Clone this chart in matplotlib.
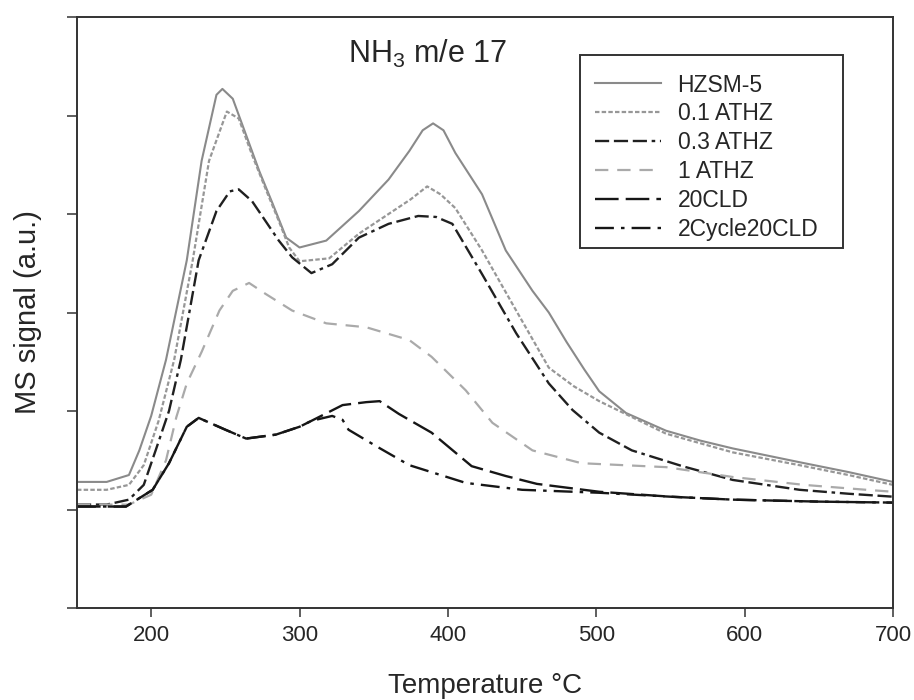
import matplotlib
matplotlib.use("Agg")
import matplotlib.pyplot as plt
from matplotlib.patches import Rectangle

# ---- data ----
T_hzsm5 = [150,170,185,192,200,210,224,234,244,248,255,264,273,282,291,300,318,340,360,374,383,390,397,405,423,439,457,468,480,492,502,520,547,570,592,637,670,700]
v_hzsm5 = [0.28,0.28,0.35,0.6,0.95,1.52,2.53,3.54,4.21,4.27,4.17,3.8,3.43,3.1,2.76,2.66,2.73,3.03,3.35,3.64,3.85,3.92,3.85,3.62,3.2,2.63,2.22,2.0,1.7,1.42,1.2,0.98,0.8,0.7,0.62,0.48,0.38,0.28]

T_01 = [150,170,185,195,205,215.5,228,239,251,259,268,277,286,293,300,320,340,360,375,386,395,405,423,446,468,485,502,547,592,637,670,700]
v_01 = [0.2,0.2,0.25,0.45,0.9,1.52,2.53,3.54,4.04,3.97,3.6,3.26,2.93,2.66,2.52,2.55,2.8,3.0,3.15,3.28,3.2,3.06,2.63,2.02,1.44,1.25,1.1,0.77,0.58,0.45,0.35,0.25]

T_03 = [150,170,185,195,203,212,220,232,244,253,259,268,277,286,295,308,322,340,360,380,392,403,423,446,468,484,502,524,558,592,637,670,700]
v_03 = [0.05,0.05,0.1,0.25,0.6,1.0,1.52,2.53,3.03,3.23,3.25,3.13,2.93,2.73,2.56,2.40,2.49,2.76,2.9,2.98,2.97,2.9,2.39,1.79,1.28,1.01,0.78,0.6,0.44,0.3,0.2,0.16,0.13]

T_1 = [150,185,200,210,217,224,234,246,255,266,277,295,318,345,374,389,412,430,457,490,547,592,640,682,700]
v_1 = [0.05,0.05,0.15,0.5,0.94,1.28,1.6,2.02,2.22,2.30,2.19,2.02,1.89,1.85,1.72,1.55,1.21,0.88,0.6,0.47,0.43,0.33,0.25,0.2,0.18]

T_20 = [150,183,201,212,224,232,250,264,284,300,308,329,345,354,367,389,416,439,460,502,550,592,650,700]
v_20 = [0.03,0.03,0.2,0.47,0.84,0.93,0.81,0.72,0.76,0.84,0.9,1.06,1.09,1.1,0.97,0.78,0.44,0.34,0.26,0.18,0.13,0.1,0.08,0.07]

T_2c = [150,183,201,212,224,232,250,264,284,300,308,322,329,333,352,374,412,450,502,550,592,650,700]
v_2c = [0.03,0.03,0.2,0.47,0.84,0.93,0.81,0.72,0.76,0.84,0.9,0.95,0.91,0.81,0.64,0.45,0.27,0.2,0.17,0.13,0.1,0.08,0.07]

labels = ["HZSM-5", "0.1 ATHZ", "0.3 ATHZ", "1 ATHZ", "20CLD", "2Cycle20CLD"]
x_ticks = [200, 300, 400, 500, 600, 700]
y_ticks = [-1, 0, 1, 2, 3, 4, 5]

plt.rcParams['font.family'] = ['Liberation Sans', 'DejaVu Sans']
plt.rcParams['mathtext.fontset'] = 'custom'
plt.rcParams['mathtext.rm'] = 'Liberation Sans'

W, H = 914, 700
L, R, TOP, BOT = 77, 893, 17, 608
fig = plt.figure(figsize=(W/100, H/100), dpi=100)
ax = fig.add_axes([L/W, 1-BOT/H, (R-L)/W, (BOT-TOP)/H])

TXT = '#262626'
series = [
    (T_hzsm5, v_hzsm5, '#8a8a8a', '-', 1.5),
    (T_01, v_01, '#979797', (0, (2, 1)), 1.6),
    (T_03, v_03, '#202020', (0, (6, 2, 6, 2, 6, 2, 1.5, 2)), 1.7),
    (T_1, v_1, '#aaaaaa', (0, (6, 4)), 1.6),
    (T_20, v_20, '#161616', (0, (10, 3)), 1.7),
    (T_2c, v_2c, '#161616', (0, (8, 3, 1.5, 3)), 1.7),
]
for (t, v, c, ls, lw), lab in zip(series, labels):
    ax.plot(t, v, color=c, linestyle=ls, linewidth=lw, label=lab)

ax.set_xlim(150, 700)
ax.set_ylim(-1, 5)
ax.set_xticks(x_ticks)
ax.set_yticks(y_ticks)
ax.set_yticklabels([])
ax.tick_params(axis='x', direction='out', length=6.5, width=1.1, labelsize=16, pad=6,
               colors='#333333', labelcolor=TXT)
ax.tick_params(axis='y', direction='out', length=7, width=1.1, colors='#333333')
for s in ax.spines.values():
    s.set_linewidth(1.4)
    s.set_color('#333333')

ax.set_xlabel("Temperature °C", fontsize=20, labelpad=19, color=TXT)
ax.set_ylabel("MS signal (a.u.)", fontsize=21, labelpad=15, color=TXT)

ax.text(0.43, (BOT-63)/(BOT-TOP), r"NH$_3$ m/e 17", transform=ax.transAxes,
        ha='center', va='baseline', fontsize=22, color=TXT)

# legend frame (pixel box)
bx0, bx1, by0, by1 = 580, 843, 55, 248
ax.add_patch(Rectangle(((bx0-L)/(R-L), (BOT-by1)/(BOT-TOP)), (bx1-bx0)/(R-L), (by1-by0)/(BOT-TOP),
                       transform=ax.transAxes, fill=True, facecolor='white',
                       edgecolor='#333333', linewidth=1.4, zorder=4))
leg = ax.legend(loc='upper left', bbox_to_anchor=((bx0-L)/(R-L), (BOT-58.5)/(BOT-TOP)),
                borderaxespad=0, fontsize=16.5, frameon=False,
                handlelength=2.9, handletextpad=0.7, labelspacing=0.26, borderpad=0.655)
leg.set_zorder(5)
for txt in leg.get_texts():
    txt.set_color(TXT)

fig.savefig("out.png", dpi=100)
